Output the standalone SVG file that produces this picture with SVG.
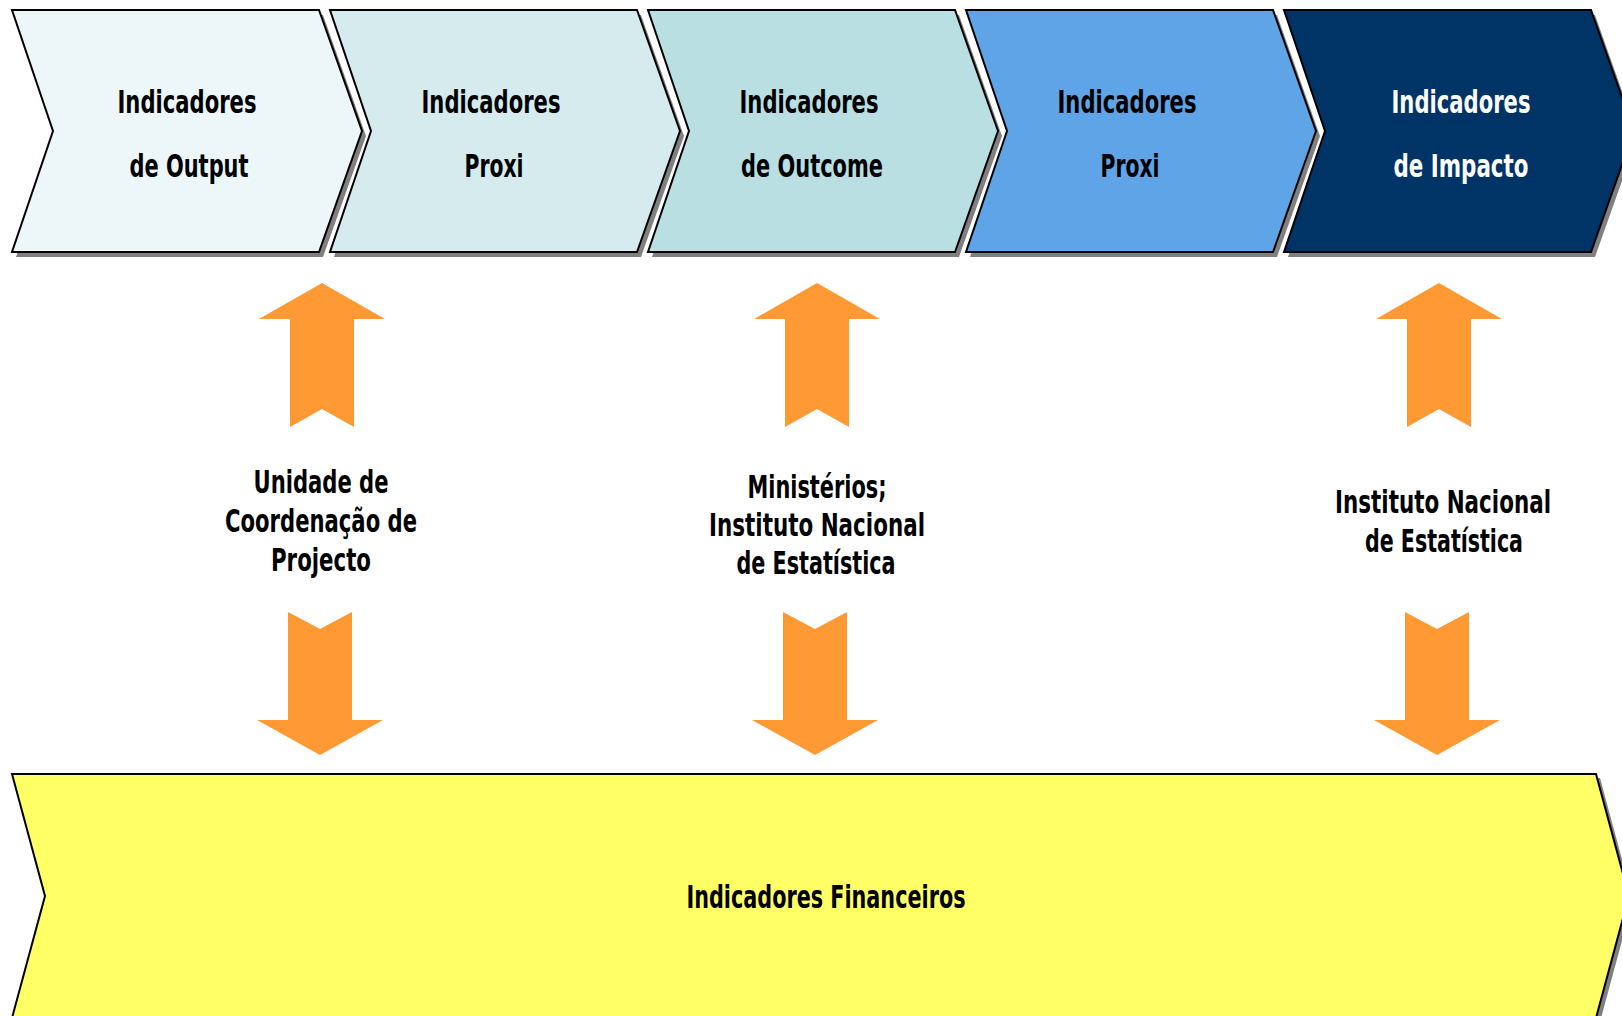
<svg xmlns="http://www.w3.org/2000/svg" width="1622" height="1016" viewBox="0 0 1622 1016">
<style>
.t{font-family:"DejaVu Sans Condensed","DejaVu Sans","Liberation Sans",sans-serif;font-weight:bold;font-size:32px;text-anchor:middle;fill:#000}
.w{fill:#fff}
.sh{fill:#808080}
.ch{stroke:#000;stroke-width:2;stroke-linejoin:miter}
.ar{fill:#FF9933}
</style>
<defs>
<polygon id="chev" points="0,10 307,10 350,131 307,252 0,252 41,131"/>
<polygon id="up" points="0,283 63,319 32,319 32,427 0,409 -32,427 -32,319 -63,319"/>
<polygon id="down" points="-32,612 0,629 32,612 32,720 63,720 0,755 -63,720 -32,720"/>
</defs>
<rect width="1622" height="1016" fill="#fff"/>

<g id="node-output">
<use href="#chev" x="16" y="5" class="sh"/>
<use href="#chev" x="12" class="ch" fill="#EDF6F8"/>
<text class="t" x="187" y="113" textLength="139" lengthAdjust="spacingAndGlyphs">Indicadores</text>
<text class="t" x="189" y="177" textLength="119" lengthAdjust="spacingAndGlyphs">de Output</text>
</g>
<g id="node-proxi1">
<use href="#chev" x="334" y="5" class="sh"/>
<use href="#chev" x="330" class="ch" fill="#D5EBEE"/>
<text class="t" x="491" y="113" textLength="139" lengthAdjust="spacingAndGlyphs">Indicadores</text>
<text class="t" x="494" y="177" textLength="59" lengthAdjust="spacingAndGlyphs">Proxi</text>
</g>
<g id="node-outcome">
<use href="#chev" x="652" y="5" class="sh"/>
<use href="#chev" x="648" class="ch" fill="#B9DFE2"/>
<text class="t" x="809" y="113" textLength="139" lengthAdjust="spacingAndGlyphs">Indicadores</text>
<text class="t" x="812" y="177" textLength="142" lengthAdjust="spacingAndGlyphs">de Outcome</text>
</g>
<g id="node-proxi2">
<use href="#chev" x="970" y="5" class="sh"/>
<use href="#chev" x="966" class="ch" fill="#5FA4E6"/>
<text class="t" x="1127" y="113" textLength="139" lengthAdjust="spacingAndGlyphs">Indicadores</text>
<text class="t" x="1130" y="177" textLength="59" lengthAdjust="spacingAndGlyphs">Proxi</text>
</g>
<g id="node-impacto">
<use href="#chev" x="1288" y="5" class="sh"/>
<use href="#chev" x="1284" class="ch" fill="#003366"/>
<text class="t w" x="1461" y="113" textLength="139" lengthAdjust="spacingAndGlyphs">Indicadores</text>
<text class="t w" x="1461" y="177" textLength="135" lengthAdjust="spacingAndGlyphs">de Impacto</text>
</g>

<g id="node-financeiros">
<polygon class="sh" points="16,778 1600,778 1633,900 1600,1022 16,1022 49,900"/>
<polygon class="ch" fill="#FFFF66" points="12,774 1596,774 1629,896 1596,1018 12,1018 45,896"/>
<text class="t" x="826" y="908" textLength="279" lengthAdjust="spacingAndGlyphs">Indicadores Financeiros</text>
</g>

<g id="label-ucp">
<text class="t" x="321" y="493" textLength="135" lengthAdjust="spacingAndGlyphs">Unidade de</text>
<text class="t" x="321" y="532" textLength="192" lengthAdjust="spacingAndGlyphs">Coordenação de</text>
<text class="t" x="321" y="571" textLength="100" lengthAdjust="spacingAndGlyphs">Projecto</text>
</g>
<g id="label-ministerios">
<text class="t" x="817" y="498" textLength="139" lengthAdjust="spacingAndGlyphs">Ministérios;</text>
<text class="t" x="817" y="536" textLength="216" lengthAdjust="spacingAndGlyphs">Instituto Nacional</text>
<text class="t" x="816" y="574" textLength="159" lengthAdjust="spacingAndGlyphs">de Estatística</text>
</g>
<g id="label-ine">
<text class="t" x="1443" y="513" textLength="216" lengthAdjust="spacingAndGlyphs">Instituto Nacional</text>
<text class="t" x="1444" y="552" textLength="158" lengthAdjust="spacingAndGlyphs">de Estatística</text>
</g>

<g id="connectors">
<use href="#up" x="322" class="ar"/>
<use href="#down" x="320" class="ar"/>
<use href="#up" x="817" class="ar"/>
<use href="#down" x="815" class="ar"/>
<use href="#up" x="1439" class="ar"/>
<use href="#down" x="1437" class="ar"/>
</g>
</svg>
